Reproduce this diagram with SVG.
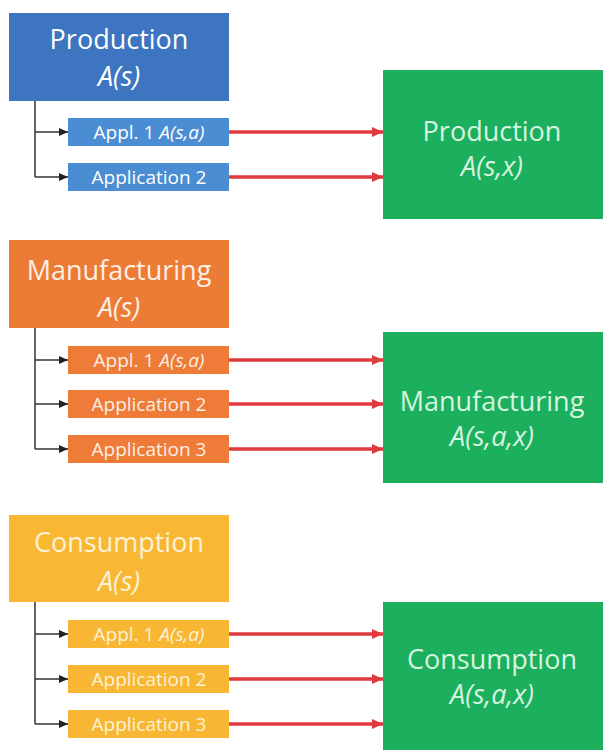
<svg xmlns="http://www.w3.org/2000/svg" width="603" height="750" viewBox="0 0 603 750">
<defs>
<marker id="ab" markerUnits="userSpaceOnUse" markerWidth="9" markerHeight="8" refX="9" refY="4" orient="auto"><path d="M0,0 L9,4 L0,8 Z" fill="#222"/></marker>
<marker id="ar" markerUnits="userSpaceOnUse" markerWidth="11" markerHeight="10" refX="11" refY="5" orient="auto"><path d="M0,0 L11,5 L0,10 Z" fill="#E03A3E"/></marker>
</defs>
<style>
text{font-family:"Open Sans","Liberation Sans",sans-serif;fill:#fff;text-anchor:middle}
.big{font-size:27px}
.it{font-style:italic}
.sm{font-size:19px}
.blk{stroke:#333;stroke-width:1.5;fill:none}
.red{stroke:#E03A3E;stroke-width:3.5;fill:none}
.blue{fill:#3D75C1}
.blue2{fill:#4A8DD3}
.org{fill:#EC7B36}
.org2{fill:#EE7C38}
.yel{fill:#F8B834}
.yel2{fill:#F8B733}
.grn{fill:#1CAF5E}
.gt{fill:#D6F5DF}
.pt{fill:#FCEFE4}
.yt{fill:#FDF1D6}
</style>
<g id="connectors">
<path class="blk" d="M35,101 V177"/>
<path class="blk" d="M35,132 H68" marker-end="url(#ab)"/>
<path class="blk" d="M35,177 H68" marker-end="url(#ab)"/>
<path class="blk" d="M35,328 V449"/>
<path class="blk" d="M35,360 H68" marker-end="url(#ab)"/>
<path class="blk" d="M35,404 H68" marker-end="url(#ab)"/>
<path class="blk" d="M35,449 H68" marker-end="url(#ab)"/>
<path class="blk" d="M35,602 V724"/>
<path class="blk" d="M35,634 H68" marker-end="url(#ab)"/>
<path class="blk" d="M35,679 H68" marker-end="url(#ab)"/>
<path class="blk" d="M35,724 H68" marker-end="url(#ab)"/>
<path class="red" d="M229,132 H383" marker-end="url(#ar)"/>
<path class="red" d="M229,177 H383" marker-end="url(#ar)"/>
<path class="red" d="M229,360 H383" marker-end="url(#ar)"/>
<path class="red" d="M229,404 H383" marker-end="url(#ar)"/>
<path class="red" d="M229,449 H383" marker-end="url(#ar)"/>
<path class="red" d="M229,634 H383" marker-end="url(#ar)"/>
<path class="red" d="M229,679 H383" marker-end="url(#ar)"/>
<path class="red" d="M229,724 H383" marker-end="url(#ar)"/>
</g>
<g id="prod-src">
<rect class="blue" x="9" y="13" width="220" height="88"/>
<text class="big" x="119" y="49">Production</text>
<text class="big it" x="119" y="86">A(s)</text>
</g>
<g id="prod-app1">
<rect class="blue2" x="68" y="118" width="161" height="28"/>
<text class="sm" x="149" y="139">Appl. 1 <tspan class="it">A(s,a)</tspan></text>
</g>
<g id="prod-app2">
<rect class="blue2" x="68" y="163" width="161" height="28"/>
<text class="sm" x="149" y="184">Application 2</text>
</g>
<g id="prod-dst">
<rect class="grn" x="383" y="70" width="220" height="149"/>
<text class="big gt" x="492" y="141">Production</text>
<text class="big it gt" x="492" y="176">A(s,x)</text>
</g>
<g id="man-src">
<rect class="org" x="9" y="240" width="220" height="88"/>
<text class="big pt" x="119" y="280">Manufacturing</text>
<text class="big it pt" x="119" y="317">A(s)</text>
</g>
<g id="man-app1">
<rect class="org2" x="68" y="346" width="161" height="28"/>
<text class="sm pt" x="149" y="367">Appl. 1 <tspan class="it">A(s,a)</tspan></text>
</g>
<g id="man-app2">
<rect class="org2" x="68" y="390" width="161" height="28"/>
<text class="sm pt" x="149" y="411">Application 2</text>
</g>
<g id="man-app3">
<rect class="org2" x="68" y="435" width="161" height="28"/>
<text class="sm pt" x="149" y="456">Application 3</text>
</g>
<g id="man-dst">
<rect class="grn" x="383" y="332" width="220" height="151"/>
<text class="big gt" x="492" y="411">Manufacturing</text>
<text class="big it gt" x="492" y="446">A(s,a,x)</text>
</g>
<g id="con-src">
<rect class="yel" x="9" y="515" width="220" height="87"/>
<text class="big yt" x="119" y="552">Consumption</text>
<text class="big it yt" x="119" y="591">A(s)</text>
</g>
<g id="con-app1">
<rect class="yel2" x="68" y="620" width="161" height="28"/>
<text class="sm yt" x="149" y="641">Appl. 1 <tspan class="it">A(s,a)</tspan></text>
</g>
<g id="con-app2">
<rect class="yel2" x="68" y="665" width="161" height="28"/>
<text class="sm yt" x="149" y="686">Application 2</text>
</g>
<g id="con-app3">
<rect class="yel2" x="68" y="710" width="161" height="28"/>
<text class="sm yt" x="149" y="731">Application 3</text>
</g>
<g id="con-dst">
<rect class="grn" x="383" y="602" width="220" height="148"/>
<text class="big gt" x="492" y="669">Consumption</text>
<text class="big it gt" x="492" y="704">A(s,a,x)</text>
</g>
</svg>
